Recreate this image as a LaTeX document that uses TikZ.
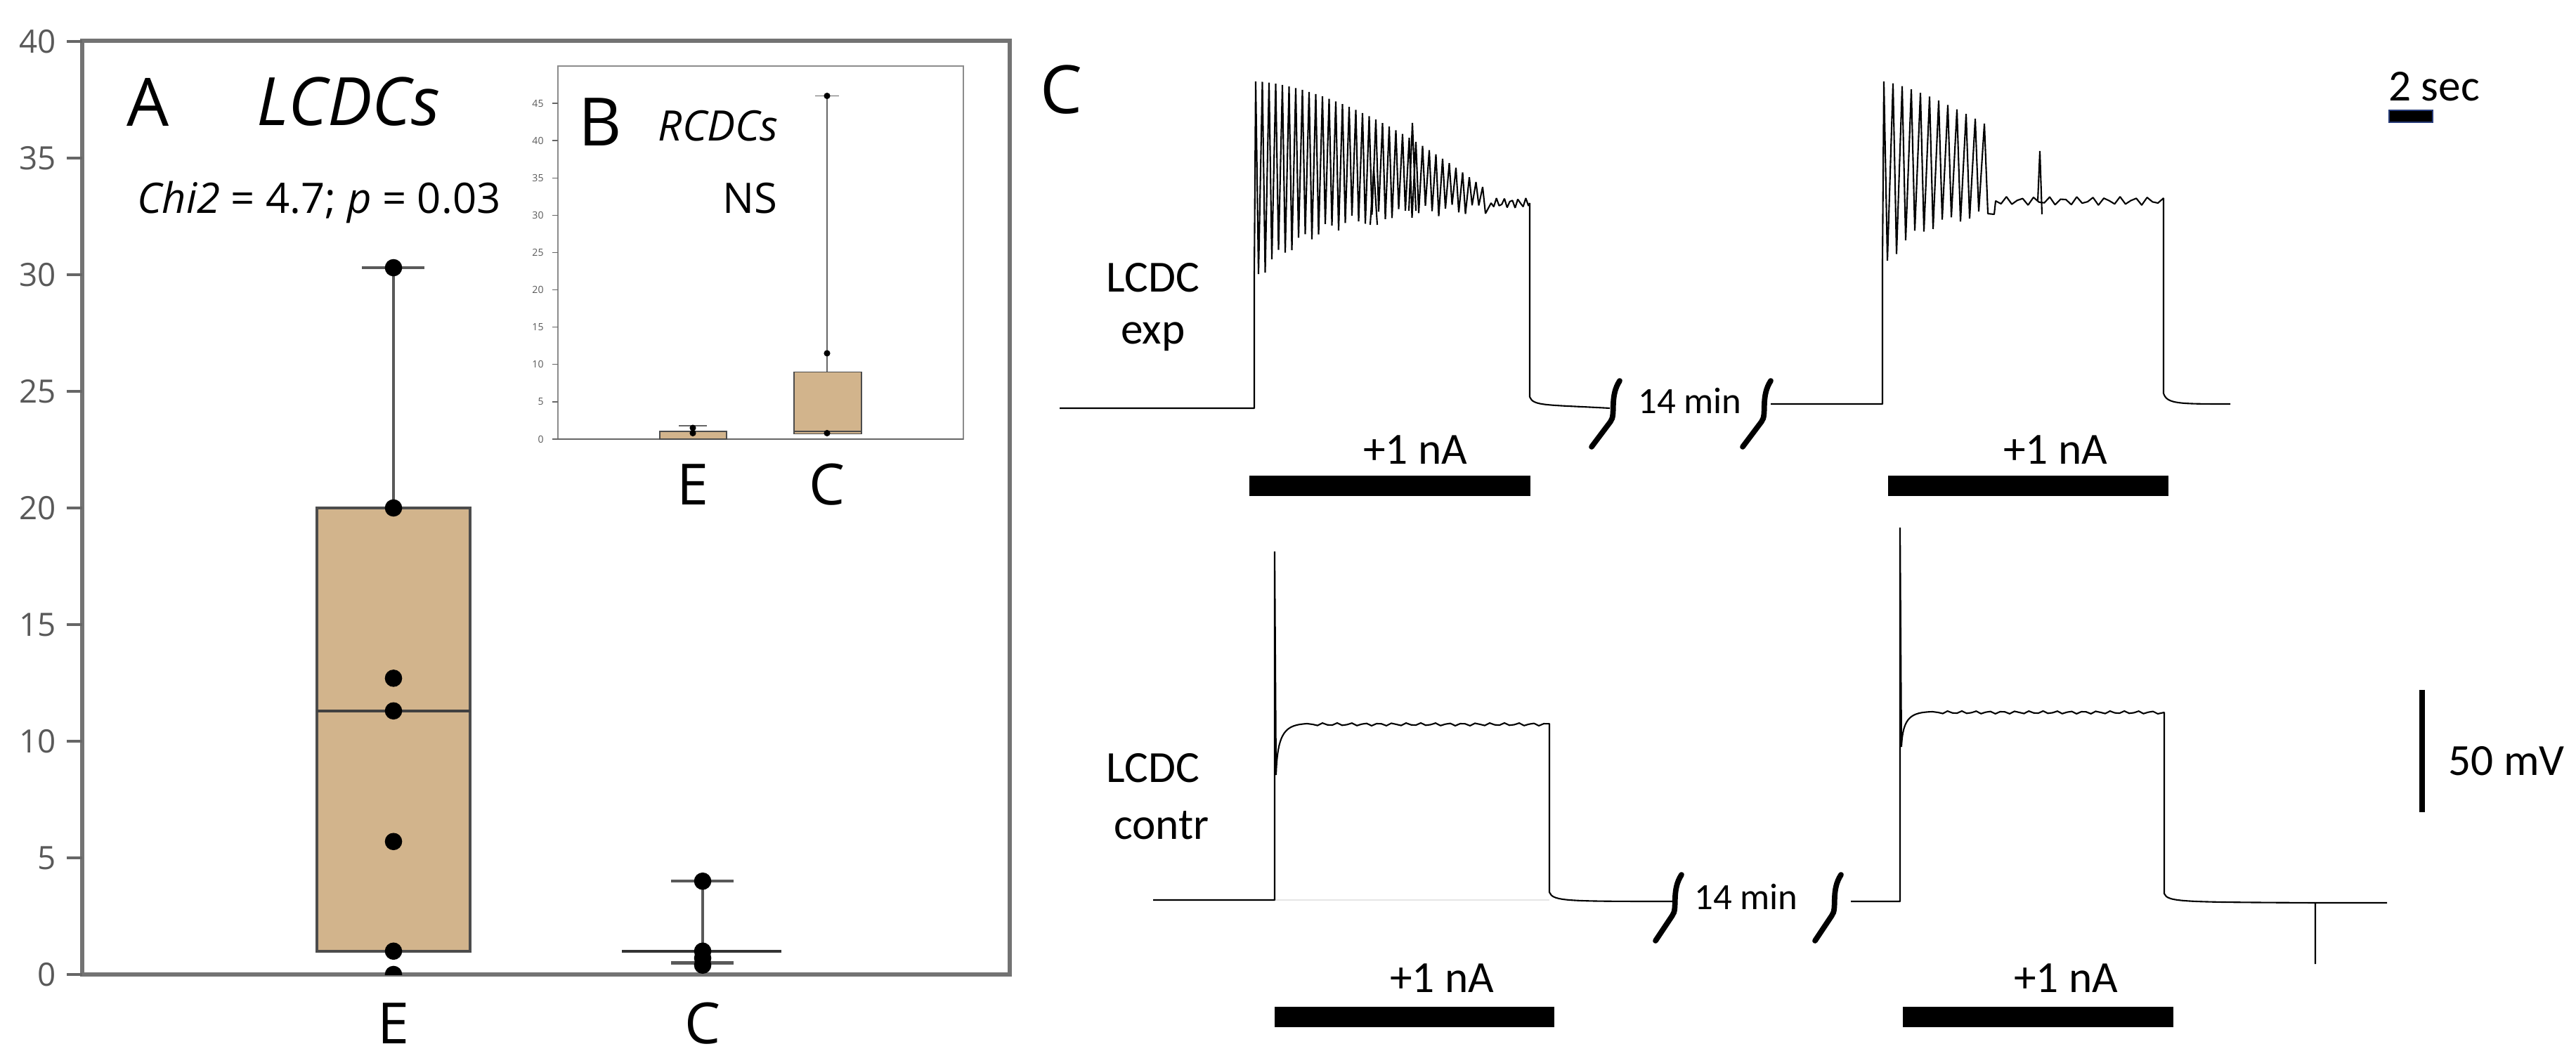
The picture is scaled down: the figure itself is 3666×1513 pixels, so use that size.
\documentclass[tikz,border=0pt]{standalone}
\usepackage{fontspec}
\setmainfont{Open Sans}
\newfontfamily\calfont{Carlito}
\begin{document}
\begin{tikzpicture}[x=0.01cm,y=-0.01cm,
  frame/.style={draw=black!55,line width=1.8pt},
  box/.style={draw=black!70,fill={rgb,255:red,210;green,180;blue,140},line width=1.1pt},
  whisk/.style={draw=black!65,line width=1.3pt},
  dot/.style={circle,fill=black,inner sep=0pt,minimum size=7pt},
  sdot/.style={circle,fill=black,inner sep=0pt,minimum size=2.6pt},
  tick/.style={font=\fontsize{13}{13}\selectfont,text=black!65,anchor=east},
  stick/.style={font=\fontsize{4}{4}\selectfont,text=black!65,anchor=east},
  grp/.style={font=\fontsize{23}{23}\selectfont},
  tr/.style={line width=0.6pt,line join=bevel},
  bar/.style={fill=black},
  ct/.style={font=\calfont\fontsize{18}{18}\selectfont},
  ctm/.style={font=\calfont\fontsize{15}{15}\selectfont},
  sq/.style={line width=2.2pt,line cap=round}]
\useasboundingbox (0,0) rectangle (3666,1513);
% ---------- panel A ----------
\draw[frame] (117,58) rectangle (1437,1387);
\foreach \v in {0,5,...,40}{
  \draw[black!60,line width=1.1pt] (95,{1387-33.2*\v}) -- (117,{1387-33.2*\v});
  \node[tick] at (92,{1387-33.2*\v}) {\v};}
% E box
\draw[whisk] (560,{1387-33.2*30.3}) -- (560,{1387-33.2*20});
\draw[whisk] (515,{1387-33.2*30.3}) -- (604,{1387-33.2*30.3});
\draw[box] (451,{1387-33.2*1}) rectangle (669,{1387-33.2*20});
\draw[black!75,line width=1.3pt] (451,{1387-33.2*11.3}) -- (669,{1387-33.2*11.3});
\foreach \v in {30.3,20,12.7,11.3,5.7,1}{\node[dot] at (560,{1387-33.2*\v}) {};}
\begin{scope}\clip (0,0) rectangle (3666,1387);\node[dot] at (560,1387) {};\end{scope}
% C box
\draw[whisk] (1000,{1387-33.2*4}) -- (1000,{1387-33.2*0.5});
\draw[whisk] (955,{1387-33.2*4}) -- (1044,{1387-33.2*4});
\draw[whisk] (955,{1387-33.2*0.5}) -- (1044,{1387-33.2*0.5});
\draw[black!80,line width=1.3pt] (885,{1387-33.2*1}) -- (1112,{1387-33.2*1});
\foreach \v in {4,1,0.7,0.4}{\node[dot] at (1000,{1387-33.2*\v}) {};}
\node[grp] (gE) at (560,1457) {E};
\node[grp] (gC) at (1000,1457) {C};
\node[font=\fontsize{27}{27}\selectfont] (lA) at (211,145) {A};
\node[font=\itshape\fontsize{27}{27}\selectfont] (lL) at (496,145) {LCDCs};
\node[font=\fontsize{17}{17}\selectfont] (chi) at (454,288) {\textit{Chi2} = 4.7; \textit{p} = 0.03};
% ---------- inset B ----------
\draw[draw=black!45,fill=white,line width=0.6pt] (794,94) rectangle (1371,625);
\draw[draw=black!60,line width=0.6pt] (794,625) -- (1371,625);
\foreach \v in {0,5,...,45}{
  \draw[black!60,line width=0.4pt] (786,{625-10.62*\v}) -- (794,{625-10.62*\v});
  \node[stick] at (786,{625-10.62*\v}) {\v};}
\draw[draw=black!60,line width=0.5pt] (986,{625-10.62*1.8}) -- (986,{625-10.62*1});
\draw[draw=black!60,line width=0.5pt] (966,{625-10.62*1.8}) -- (1006,{625-10.62*1.8});
\draw[box,line width=0.5pt] (939,625) rectangle (1034,{625-10.62*1});
\foreach \v in {1.5,0.8}{\node[sdot] at (986,{625-10.62*\v}) {};}
\draw[draw=black!60,line width=0.5pt] (1177,{625-10.62*46}) -- (1177,{625-10.62*9});
\draw[draw=black!60,line width=0.5pt] (1160,{625-10.62*46}) -- (1194,{625-10.62*46});
\draw[box,line width=0.5pt] (1130,{625-10.62*0.7}) rectangle (1226,{625-10.62*9});
\draw[black!70,line width=0.6pt] (1130,{625-10.62*1}) -- (1226,{625-10.62*1});
\foreach \v in {46,11.5,0.8}{\node[sdot] at (1177,{625-10.62*\v}) {};}
\node[grp] (iE) at (986,690) {E};
\node[grp] (iC) at (1177,690) {C};
\node[font=\fontsize{27}{27}\selectfont] (lB) at (854,174) {B};
\node[font=\itshape\fontsize{17}{17}\selectfont] (lR) at (1022,179) {RCDCs};
\node[font=\fontsize{17}{17}\selectfont] (ns) at (1067,282) {NS};
% ---------- panel C ----------
\node[font=\fontsize{27}{27}\selectfont] (lC) at (1510,128) {C};
% top trace 1
\draw[tr] (1508,581) -- (1785,581) -- (1785,390)
  \foreach \i in {0,...,34}{ -- ({1787+\i*9.5},{116+150*(\i/34)^1.6}) -- ({1791+\i*9.5},{390-95*(1-exp(-\i/9))+8*sin(\i*97)}) }
  \foreach \i in {0,...,14}{ -- ({2122+\i*3.8},{289+7*sin(\i*131)}) }
  -- (2177,289) -- (2177,565) .. controls (2182,578) and (2200,576) .. (2291,581);
\draw[tr] (1950,320) -- (1955,240) -- (1960,320);
\draw[tr] (2005,300) -- (2010,175) -- (2015,300);
% top trace 2
\draw[tr] (2520,575) -- (2679,575) -- (2679,371)
  \foreach \i in {0,...,11}{ -- ({2681+\i*13},{116+60*(\i/11)^1.3}) -- ({2686+\i*13},{371-70*(1-exp(-\i/4))+6*sin(\i*97)}) }
  -- (2838,305) \foreach \i in {0,...,30}{ -- ({2840+\i*7.7},{286+6*sin(\i*137)}) }
  -- (3079,282) -- (3079,560) .. controls (3084,575) and (3100,575) .. (3174,575);
\draw[tr] (2900,286) -- (2903,215) -- (2906,305);
% top squiggles and bars
\draw[sq] (2305,542) .. controls (2290,565) and (2300,590) .. (2292,600) -- (2265,636);
\draw[sq] (2520,542) .. controls (2505,565) and (2515,590) .. (2507,600) -- (2480,636);
\node[ctm] (m1) at (2405,570) {14 min};
\fill[bar] (1778,677) rectangle (2178,706);
\fill[bar] (2687,677) rectangle (3086,706);
\node[ct] (n1) at (2014,640) {+1 nA};
\node[ct] (n2) at (2925,640) {+1 nA};
\node[ct] (e1) at (1641,395) {LCDC};
\node[ct] (e2) at (1641,479) {exp};
% scale bars
\node[ct] (s2) at (3464,123) {2 sec};
\draw[fill=black,draw={rgb,255:red,40;green,60;blue,120},line width=0.5pt] (3400,157) rectangle (3462,174);
\draw[line width=2.2pt] (3447,982) -- (3447,1156);
\node[ct] (s50) at (3567,1083) {50 mV};
% bottom trace 1
\draw[black!10,line width=0.6pt] (1814,1281) -- (2205,1281);
\draw[tr] (1641,1281) -- (1814,1281) -- (1814,785) -- (1816,1103) .. controls (1818,1040) and (1830,1032) .. (1860,1030)
  \foreach \i in {0,...,48}{ -- ({1868+\i*7},{1031+2*sin(\i*127)}) }
  -- (2205,1030) -- (2205,1270) .. controls (2210,1283) and (2230,1283) .. (2386,1283);
% bottom trace 2
\draw[tr] (2634,1283) -- (2704,1283) -- (2704,751) -- (2706,1063) .. controls (2708,1020) and (2720,1014) .. (2750,1013)
  \foreach \i in {0,...,46}{ -- ({2758+\i*6.8},{1014+2*sin(\i*127)}) }
  -- (3080,1014) -- (3080,1272) .. controls (3085,1284) and (3105,1284) .. (3295,1285) -- (3295,1372) -- (3295,1285) -- (3397,1285);
\draw[sq] (2393,1245) .. controls (2378,1268) and (2388,1293) .. (2380,1303) -- (2356,1339);
\draw[sq] (2620,1245) .. controls (2605,1268) and (2615,1293) .. (2607,1303) -- (2583,1339);
\node[ctm] (m2) at (2485,1276) {14 min};
\fill[bar] (1814,1433) rectangle (2212,1462);
\fill[bar] (2708,1433) rectangle (3093,1462);
\node[ct] (n3) at (2052,1392) {+1 nA};
\node[ct] (n4) at (2940,1392) {+1 nA};
\node[ct] (c1) at (1641,1093) {LCDC};
\node[ct] (c2) at (1653,1175) {contr};
\end{tikzpicture}
\end{document}
